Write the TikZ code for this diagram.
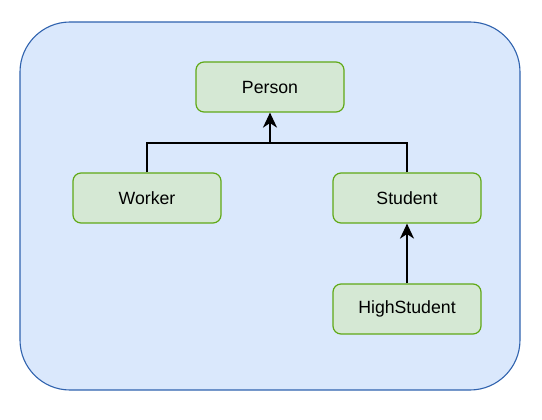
\documentclass[tikz,border=0pt]{standalone}
\usepackage{fontspec}
\setmainfont{Liberation Sans}
\usetikzlibrary{arrows.meta}
\definecolor{bgfill}{HTML}{DAE8FC}
\definecolor{bgline}{HTML}{2F62AE}
\definecolor{boxfill}{HTML}{D5E8D4}
\definecolor{boxline}{HTML}{60A917}
\tikzset{
  classbox/.style={draw=boxline, fill=boxfill, line width=1.2pt, rounded corners=8pt,
    minimum width=148pt, minimum height=50pt, inner sep=0pt,
    font=\fontsize{17.7}{20}\selectfont},
  link/.style={draw=black, line width=1.8pt},
  inherit/.style={link, -{Stealth[length=15pt, width=14pt, inset=4.5pt]}}
}
\begin{document}
\begin{tikzpicture}[x=1pt, y=-1pt]
\useasboundingbox (0,0) rectangle (542,420);
\node[draw=bgline, fill=bgfill, line width=1.1pt, rounded corners=50pt,
  minimum width=500pt, minimum height=368pt, inner sep=0pt] (bg) at (270,206) {};
\node[classbox] (person) at (270,87) {Person};
\node[classbox] (worker) at (147,198) {Worker};
\node[classbox] (student) at (407,198) {Student};
\node[classbox] (high) at (407,309) {HighStudent};
\coordinate (j) at (270,143);
\draw[link] (worker.north) |- (j);
\draw[link] (student.north) |- (j);
\draw[inherit] (j) -- (person.south);
\draw[inherit] (high.north) -- (student.south);
\end{tikzpicture}
\end{document}
